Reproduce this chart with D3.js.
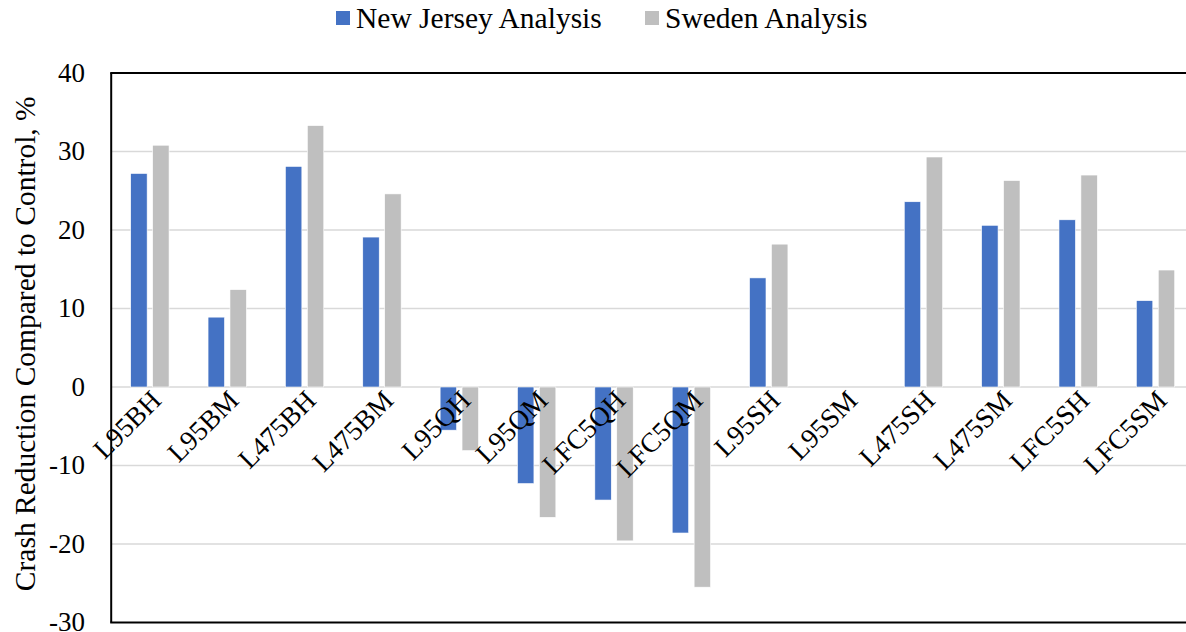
<!DOCTYPE html>
<html>
<head>
<meta charset="utf-8">
<script src="https://cdn.jsdelivr.net/npm/d3@7"></script>
<style>
  html, body { margin: 0; padding: 0; background: #fff; }
  #chart text { font-family: "Liberation Serif", serif; }
</style>
</head>
<body>
<svg id="chart" width="1186" height="632"></svg>
<script>
// Crash reduction by treatment, two analyses
const categories = ["L95BH", "L95BM", "L475BH", "L475BM", "L95QH", "L95QM", "LFC5QH",
                    "LFC5QM", "L95SH", "L95SM", "L475SH", "L475SM", "LFC5SH", "LFC5SM"];
const seriesNames = ["New Jersey Analysis", "Sweden Analysis"];
const newJersey = [27.2, 8.9, 28.1, 19.1, -5.5, -12.3, -14.4, -18.6, 13.9, 0, 23.6, 20.6, 21.3, 11.0];
const sweden    = [30.8, 12.4, 33.3, 24.6, -8.1, -16.6, -19.6, -25.5, 18.2, 0, 29.3, 26.3, 27.0, 14.9];
const yTicks = [-30, -20, -10, 0, 10, 20, 30, 40];
const colors = ["#4472c4", "#bfbfbf"];
const FONT = '"Liberation Serif", serif';

const svg = d3.select("#chart");
const margin = { left: 111.2, top: 73, bottom: 622.5 };
const plotRight = 1194.2;

const x = d3.scaleBand().domain(categories).range([margin.left, plotRight]).padding(0);
const step = x.step();
const x1 = d3.scaleBand().domain(seriesNames)
  .range([step * 0.252, step * 0.748]).paddingInner(0.25).paddingOuter(0);
const y = d3.scaleLinear().domain([-30, 40]).range([margin.bottom, margin.top]);

// horizontal gridlines
svg.append("g").selectAll("line")
  .data(yTicks.filter(t => t > -30 && t < 40))
  .join("line")
  .attr("x1", margin.left).attr("x2", plotRight)
  .attr("y1", d => y(d)).attr("y2", d => y(d))
  .attr("stroke", "#d9d9d9").attr("stroke-width", 1.5);

// bars
const rows = categories.map((c, i) => ({ cat: c, vals: [newJersey[i], sweden[i]] }));
const groups = svg.append("g").selectAll("g")
  .data(rows).join("g")
  .attr("transform", d => `translate(${x(d.cat)},0)`);
groups.selectAll("rect")
  .data(d => d.vals.map((v, k) => ({ key: seriesNames[k], v, k })).filter(d => d.v !== 0))
  .join("rect")
  .attr("x", d => x1(d.key))
  .attr("width", x1.bandwidth())
  .attr("y", d => y(Math.max(0, d.v)))
  .attr("height", d => Math.abs(y(d.v) - y(0)))
  .attr("fill", d => colors[d.k])
  .attr("stroke", "#ffffff").attr("stroke-width", 0.6);

// plot frame
svg.append("line").attr("x1", margin.left).attr("x2", margin.left)
  .attr("y1", margin.top).attr("y2", margin.bottom)
  .attr("stroke", "#000").attr("stroke-width", 2);
svg.append("line").attr("x1", margin.left - 1).attr("x2", plotRight)
  .attr("y1", margin.top).attr("y2", margin.top)
  .attr("stroke", "#000").attr("stroke-width", 2);
svg.append("line").attr("x1", margin.left - 1).attr("x2", plotRight)
  .attr("y1", margin.bottom).attr("y2", margin.bottom)
  .attr("stroke", "#000").attr("stroke-width", 2);

// y tick labels
svg.append("g").selectAll("text")
  .data(yTicks).join("text")
  .attr("x", 85)
  .attr("y", d => y(d))
  .attr("dy", "0.33em")
  .attr("text-anchor", "end")
  .style("font-family", FONT)
  .style("font-size", "27px")
  .attr("fill", "#000")
  .text(d => d);

// category labels, rotated
svg.append("g").selectAll("text")
  .data(categories).join("text")
  .attr("text-anchor", "end")
  .style("font-family", FONT)
  .style("font-size", "27.5px")
  .attr("fill", "#000")
  .attr("transform", d => `translate(${x(d) + step / 2 + 13},${y(0) + 15}) rotate(-45)`)
  .text(d => d);

// y axis title
svg.append("text")
  .attr("transform", `translate(35,${(margin.top + margin.bottom) / 2 - 4}) rotate(-90)`)
  .attr("text-anchor", "middle")
  .style("font-family", FONT)
  .style("font-size", "29.5px")
  .attr("fill", "#000")
  .text("Crash Reduction Compared to Control, %");

// legend
const legendX = [336, 645];
const legend = svg.append("g").selectAll("g")
  .data(seriesNames).join("g")
  .attr("transform", (d, i) => `translate(${legendX[i]},0)`);
legend.append("rect")
  .attr("x", 0).attr("y", 11).attr("width", 14).attr("height", 14)
  .attr("fill", (d, i) => colors[i]);
legend.append("text")
  .attr("x", 20).attr("y", 28)
  .style("font-family", FONT)
  .style("font-size", "29.5px")
  .attr("fill", "#000")
  .text(d => d);
</script>
</body>
</html>
